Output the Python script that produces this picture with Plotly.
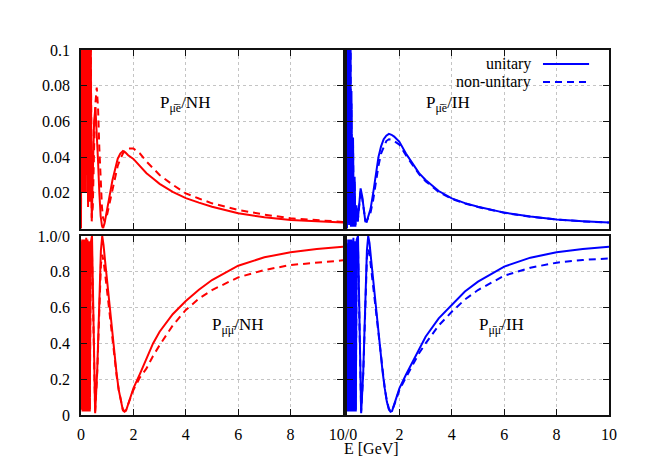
import plotly.graph_objects as go

# ---------------- data ----------------
# P(mu-bar -> e-bar), normal hierarchy (top-left)
E_me_nh = [0.0, 0.015, 0.03, 0.045, 0.06, 0.075, 0.09, 0.105, 0.12, 0.135, 0.15, 0.165,
           0.18, 0.20, 0.22, 0.245, 0.27, 0.30, 0.335, 0.37, 0.41, 0.45, 0.50, 0.55, 0.60,
           0.65, 0.70, 0.75, 0.80, 0.84, 0.90, 1.0, 1.1, 1.2, 1.3, 1.4, 1.5, 1.6, 1.7, 1.8,
           2.0, 2.25, 2.5, 2.75, 3.0, 3.5, 4.0, 4.5, 5.0, 6.0, 7.0, 8.0, 9.0, 10.0]
P_me_nh_u = [0.0, 0.13, 0.025, 0.14, 0.02, 0.15, 0.03, 0.14, 0.02, 0.16, 0.025, 0.15,
             0.02, 0.16, 0.03, 0.15, 0.012, 0.14, 0.015, 0.11, 0.004, 0.03, 0.060, 0.068, 0.056,
             0.038, 0.02, 0.007, 0.0015, 0.0, 0.003, 0.012, 0.019, 0.027, 0.034, 0.039, 0.042, 0.0434, 0.0425, 0.041,
             0.039, 0.035, 0.031, 0.028, 0.025, 0.0205, 0.017, 0.0145, 0.0122, 0.0085, 0.0063, 0.0048, 0.0039, 0.0033]
P_me_nh_n = [0.0, 0.14, 0.03, 0.15, 0.025, 0.16, 0.03, 0.15, 0.025, 0.16, 0.03, 0.16,
             0.02, 0.17, 0.03, 0.16, 0.015, 0.15, 0.02, 0.12, 0.006, 0.012, 0.045, 0.07, 0.079,
             0.068, 0.045, 0.025, 0.012, 0.006, 0.004, 0.008, 0.015, 0.022, 0.029, 0.035, 0.039, 0.042, 0.0440, 0.0448,
             0.0448, 0.042, 0.0375, 0.034, 0.030, 0.0245, 0.0197, 0.0168, 0.0141, 0.0104, 0.0078, 0.0057, 0.0045, 0.0037]

# P(mu-bar -> e-bar), inverted hierarchy (top-right)
E_me_ih = [0.0, 0.01, 0.02, 0.03, 0.04, 0.05, 0.06, 0.07, 0.08, 0.09, 0.10, 0.11, 0.12,
           0.135, 0.15, 0.17, 0.20, 0.23, 0.26, 0.29, 0.32, 0.36, 0.41, 0.46, 0.52, 0.58,
           0.64, 0.70, 0.75, 0.80, 0.9, 1.0, 1.1, 1.2, 1.3, 1.4, 1.5, 1.6, 1.7, 1.8, 2.0,
           2.25, 2.5, 2.75, 3.0, 3.5, 4.0, 4.5, 5.0, 6.0, 7.0, 8.0, 9.0, 10.0]
P_me_ih_u = [0.0, 0.15, 0.005, 0.16, 0.003, 0.15, 0.004, 0.16, 0.002, 0.15, 0.003, 0.14, 0.002,
             0.12, 0.001, 0.077, 0.001, 0.051, 0.001, 0.029, 0.001, 0.013, 0.004, 0.012, 0.0225, 0.018,
             0.009, 0.004, 0.0038, 0.006, 0.011, 0.020, 0.031, 0.040, 0.046, 0.050, 0.052, 0.053, 0.0525, 0.0515, 0.0486,
             0.042, 0.0365, 0.031, 0.0272, 0.021, 0.0169, 0.0142, 0.0122, 0.0089, 0.0067, 0.0051, 0.0041, 0.0033]
P_me_ih_n = [0.0, 0.14, 0.006, 0.15, 0.004, 0.14, 0.005, 0.15, 0.003, 0.14, 0.004, 0.13, 0.003,
             0.11, 0.002, 0.07, 0.002, 0.047, 0.002, 0.027, 0.002, 0.012, 0.004, 0.011, 0.021, 0.017,
             0.009, 0.0045, 0.004, 0.006, 0.009, 0.016, 0.026, 0.035, 0.042, 0.046, 0.049, 0.050, 0.0498, 0.049, 0.047,
             0.041, 0.0355, 0.0305, 0.0265, 0.0205, 0.0166, 0.014, 0.012, 0.0088, 0.0066, 0.005, 0.004, 0.0033]

# P(mu-bar -> mu-bar), normal hierarchy (bottom-left)
E_mm = [0.0, 0.015, 0.03, 0.045, 0.06, 0.075, 0.09, 0.105, 0.12, 0.135, 0.15, 0.165, 0.18,
        0.20, 0.22, 0.245, 0.27, 0.30, 0.335, 0.37, 0.42, 0.48, 0.54, 0.62, 0.70, 0.76, 0.81,
        0.86, 0.92, 0.98, 1.05, 1.12, 1.20, 1.28, 1.36, 1.44, 1.52, 1.60, 1.66, 1.72, 1.80,
        1.90, 2.0, 2.25, 2.5, 2.75, 3.0, 3.5, 4.0, 4.5, 5.0, 6.0, 7.0, 8.0, 9.0, 10.0]
P_mm_nh_u = [0.5, 0.97, 0.03, 0.98, 0.02, 0.95, 0.03, 0.98, 0.02, 0.97, 0.03, 0.98, 0.02,
             0.99, 0.02, 0.98, 0.02, 0.97, 0.02, 0.96, 1.0, 0.45, 0.01, 0.25, 0.65, 0.92, 1.0,
             0.95, 0.86, 0.77, 0.68, 0.57, 0.45, 0.33, 0.23, 0.14, 0.07, 0.025, 0.018, 0.025, 0.06,
             0.10, 0.149, 0.23, 0.317, 0.40, 0.465, 0.563, 0.637, 0.70, 0.754, 0.834, 0.881, 0.909, 0.927, 0.940]
P_mm_nh_n = [0.45, 0.9, 0.05, 0.88, 0.04, 0.9, 0.05, 0.87, 0.04, 0.9, 0.05, 0.88, 0.04,
             0.9, 0.04, 0.89, 0.03, 0.9, 0.03, 0.88, 0.9, 0.42, 0.02, 0.24, 0.6, 0.84, 0.895,
             0.86, 0.79, 0.71, 0.63, 0.53, 0.42, 0.31, 0.22, 0.14, 0.075, 0.03, 0.022, 0.028, 0.06,
             0.095, 0.14, 0.21, 0.26, 0.33, 0.39, 0.50, 0.587, 0.65, 0.698, 0.769, 0.81, 0.838, 0.853, 0.864]

# P(mu-bar -> mu-bar), inverted hierarchy (bottom-right)
P_mm_ih_u = [0.5, 0.96, 0.02, 0.98, 0.03, 0.97, 0.02, 0.98, 0.03, 0.96, 0.02, 0.98, 0.03,
             0.97, 0.02, 0.99, 0.02, 0.97, 0.02, 0.98, 1.0, 0.42, 0.01, 0.24, 0.64, 0.92, 1.0,
             0.96, 0.87, 0.78, 0.69, 0.58, 0.46, 0.34, 0.24, 0.15, 0.075, 0.03, 0.018, 0.022, 0.055,
             0.10, 0.149, 0.225, 0.298, 0.37, 0.437, 0.54, 0.618, 0.69, 0.745, 0.829, 0.879, 0.909, 0.927, 0.940]
P_mm_ih_n = [0.45, 0.92, 0.04, 0.93, 0.04, 0.92, 0.03, 0.93, 0.04, 0.92, 0.03, 0.93, 0.04,
             0.92, 0.03, 0.94, 0.03, 0.92, 0.03, 0.93, 0.94, 0.40, 0.02, 0.23, 0.61, 0.88, 0.93,
             0.90, 0.82, 0.74, 0.65, 0.55, 0.44, 0.33, 0.23, 0.15, 0.08, 0.035, 0.022, 0.026, 0.055,
             0.095, 0.14, 0.21, 0.28, 0.345, 0.40, 0.50, 0.577, 0.645, 0.698, 0.778, 0.823, 0.851, 0.866, 0.875]

x_ticks = [0, 2, 4, 6, 8, 10]
x_text_left = ["0", "2", "4", "6", "8", "10/0"]
x_text_right = ["", "2", "4", "6", "8", "10"]
y_ticks_top = [0.02, 0.04, 0.06, 0.08, 0.1]
y_text_top = ["0.02", "0.04", "0.06", "0.08", "0.1"]
y_ticks_bot = [0, 0.2, 0.4, 0.6, 0.8, 1.0]
y_text_bot = ["0", "0.2", "0.4", "0.6", "0.8", "1.0/0"]

legend_names = ["unitary", "non-unitary"]

# ---------------- figure ----------------
RED = "#ff0000"
BLUE = "#0000ff"
DASH = "7px,5px"
FONT = "Liberation Serif, Times New Roman, Times, serif"

fig = go.Figure()


def add(x, y, color, dash, xa, ya):
    fig.add_trace(go.Scatter(x=x, y=y, mode="lines",
                             line=dict(color=color, width=2, dash=dash),
                             xaxis=xa, yaxis=ya, showlegend=False, hoverinfo="skip"))


add(E_me_nh, P_me_nh_n, RED, DASH, "x3", "y3")
add(E_me_nh, P_me_nh_u, RED, "solid", "x3", "y3")
add(E_me_ih, P_me_ih_n, BLUE, DASH, "x4", "y4")
add(E_me_ih, P_me_ih_u, BLUE, "solid", "x4", "y4")
add(E_mm, P_mm_nh_n, RED, DASH, "x", "y")
add(E_mm, P_mm_nh_u, RED, "solid", "x", "y")
add(E_mm, P_mm_ih_n, BLUE, DASH, "x2", "y2")
add(E_mm, P_mm_ih_u, BLUE, "solid", "x2", "y2")

W, H = 528, 365
xd_l = [0, 262 / W]
xd_r = [266 / W, 1]
yd_b = [0, 179 / H]
yd_t = [186.5 / H, 1]

common = dict(showline=True, mirror="ticks", linecolor="#111", linewidth=1.5,
              ticks="inside", ticklen=6, tickcolor="#111", tickwidth=1,
              showgrid=True, gridcolor="#c4c4c4", griddash="dot", gridwidth=1,
              zeroline=False, tickfont=dict(family=FONT, size=16, color="black"))


def xax(domain, anchor, text):
    d = dict(common)
    d.update(domain=domain, anchor=anchor, range=[0, 10], tickvals=x_ticks)
    if text is None:
        d.update(showticklabels=False)
    else:
        d.update(ticktext=text, ticklabelstandoff=4)
    return d


def yax(domain, anchor, rng, vals, text):
    d = dict(common)
    d.update(domain=domain, anchor=anchor, range=rng, tickvals=vals)
    if text is None:
        d.update(showticklabels=False)
    else:
        d.update(ticktext=text, ticklabelstandoff=6)
    return d


def label(txt, x, y, xr, yr):
    return dict(text=txt, x=x, y=y, xref=xr, yref=yr, showarrow=False,
                font=dict(family=FONT, size=17, color="black"),
                xanchor="center", yanchor="middle")


ann = [
    label("P<sub>μ̄ē</sub>/NH", 3.97, 0.0695, "x3", "y3"),
    label("P<sub>μ̄ē</sub>/IH", 3.85, 0.0695, "x4", "y4"),
    label("P<sub>μ̄μ̄</sub>/NH", 5.99, 0.495, "x", "y"),
    label("P<sub>μ̄μ̄</sub>/IH", 5.88, 0.495, "x2", "y2"),
    dict(text=legend_names[0], x=7.1, y=0.0922, xref="x4", yref="y4", showarrow=False,
         xanchor="right", yanchor="middle", font=dict(family=FONT, size=16, color="black")),
    dict(text=legend_names[1], x=7.1, y=0.0821, xref="x4", yref="y4", showarrow=False,
         xanchor="right", yanchor="middle", font=dict(family=FONT, size=16, color="black")),
    dict(text="E [GeV]", x=(371 - 81) / W, y=(415 - 448) / H, xref="paper", yref="paper",
         showarrow=False, xanchor="center", yanchor="middle",
         font=dict(family=FONT, size=16, color="black")),
]

shapes = [
    dict(type="line", x0=7.48, x1=9.24, y0=0.0922, y1=0.0922, xref="x4", yref="y4",
         line=dict(color=BLUE, width=2)),
    dict(type="line", x0=7.48, x1=9.24, y0=0.0821, y1=0.0821, xref="x4", yref="y4",
         line=dict(color=BLUE, width=2, dash=DASH)),
]

# the page body adds an 8px offset; the figure is sized to compensate
fig.update_layout(
    width=656, height=457,
    margin=dict(l=73, r=55, t=42, b=50),
    paper_bgcolor="white", plot_bgcolor="white",
    showlegend=False,
    xaxis=xax(xd_l, "y", x_text_left),
    yaxis=yax(yd_b, "x", [0, 1], y_ticks_bot, y_text_bot),
    xaxis2=xax(xd_r, "y2", x_text_right),
    yaxis2=yax(yd_b, "x2", [0, 1], y_ticks_bot, None),
    xaxis3=xax(xd_l, "y3", None),
    yaxis3=yax(yd_t, "x3", [0, 0.1], y_ticks_top, y_text_top),
    xaxis4=xax(xd_r, "y4", None),
    yaxis4=yax(yd_t, "x4", [0, 0.1], y_ticks_top, None),
    annotations=ann,
    shapes=shapes,
)

fig.write_html("out.html")
